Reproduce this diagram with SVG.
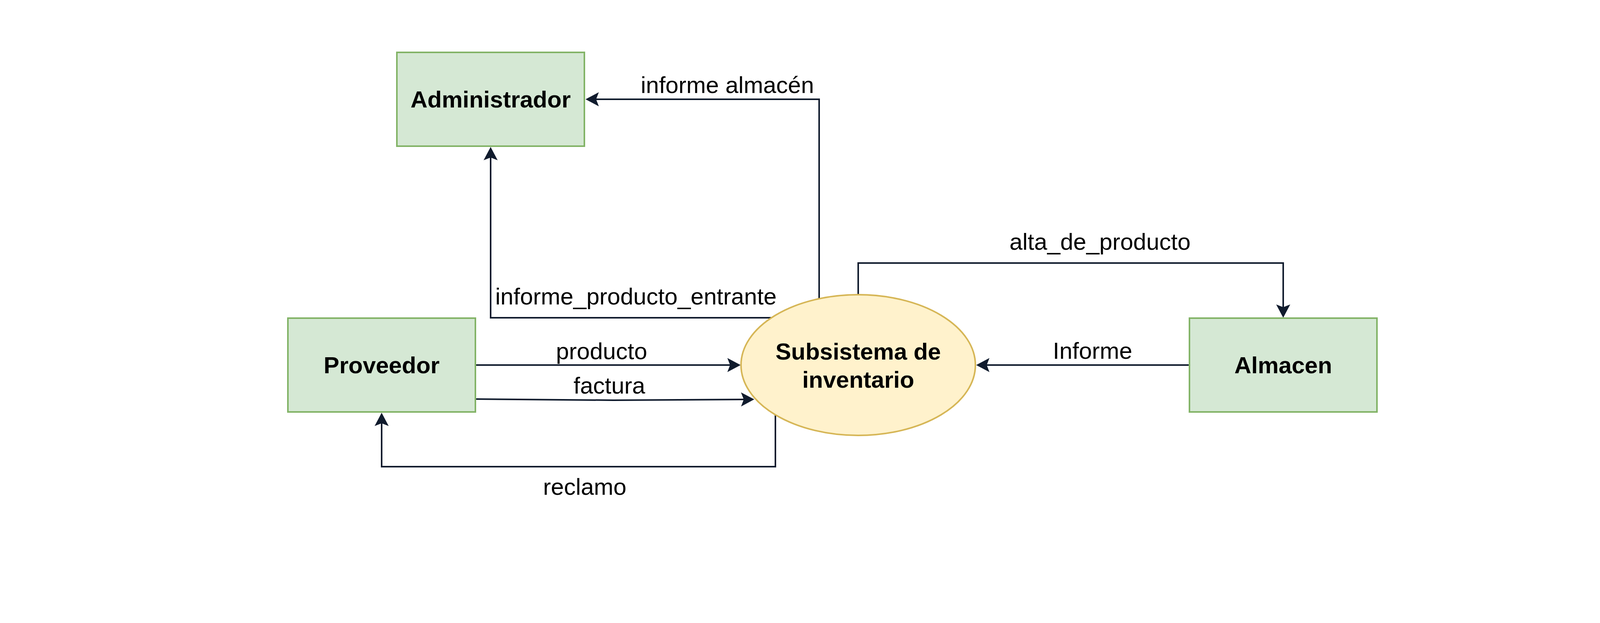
<svg xmlns="http://www.w3.org/2000/svg" width="4107" height="1594" viewBox="0 0 4107 1594">
<style>
.box{fill:#d5e8d4;stroke:#82b366;stroke-width:4}
.proc{fill:#fff2cc;stroke:#d6b656;stroke-width:4}
.edge{fill:none;stroke:#101b2d;stroke-width:4}
.t{font-family:"Liberation Sans",Arial,Helvetica,sans-serif;font-size:60px;fill:#000;text-anchor:middle}
.b{font-weight:bold}
</style>
<defs>
<marker id="arr" viewBox="0 0 34 36" refX="7" refY="18" markerWidth="34" markerHeight="36" markerUnits="userSpaceOnUse" orient="auto">
<path d="M0,0 L34,18 L0,36 L7,18 Z" fill="#101b2d"/>
</marker>
</defs>
<rect width="4107" height="1594" fill="#ffffff"/>
<g id="connectors">
<path class="edge" d="M2097,764 L2097,254 L1526,254" marker-end="url(#arr)"/>
<path class="edge" d="M1975,813 L1256,813 L1256,403" marker-end="url(#arr)"/>
<path class="edge" d="M1217,934 L1869,934" marker-end="url(#arr)"/>
<path class="edge" d="M1217,1021 L1570,1024 L1904,1022" marker-end="url(#arr)"/>
<path class="edge" d="M1985,1061 L1985,1194 L977,1194 L977,1083" marker-end="url(#arr)"/>
<path class="edge" d="M2197,754 L2197,673 L3285,673 L3285,786" marker-end="url(#arr)"/>
<path class="edge" d="M3045,934 L2526,934" marker-end="url(#arr)"/>
<text class="t" x="1862" y="238">informe almacén</text>
<text class="t" x="1628" y="779">informe_producto_entrante</text>
<text class="t" x="1540" y="919">producto</text>
<text class="t" x="1560" y="1007">factura</text>
<text class="t" x="1497" y="1266">reclamo</text>
<text class="t" x="2797" y="918">Informe</text>
<text class="t" x="2816" y="639">alta_de_producto</text>
</g>
<g id="administrador">
<rect class="box" x="1016" y="134" width="480" height="240"/>
<text class="t b" x="1256" y="275">Administrador</text>
</g>
<g id="proveedor">
<rect class="box" x="737" y="814" width="480" height="240"/>
<text class="t b" x="977" y="955">Proveedor</text>
</g>
<g id="subsistema">
<ellipse class="proc" cx="2197" cy="934" rx="300" ry="180"/>
<text class="t b" x="2197" y="920">Subsistema de</text>
<text class="t b" x="2197" y="992">inventario</text>
</g>
<g id="almacen">
<rect class="box" x="3045" y="814" width="480" height="240"/>
<text class="t b" x="3285" y="955">Almacen</text>
</g>
</svg>
